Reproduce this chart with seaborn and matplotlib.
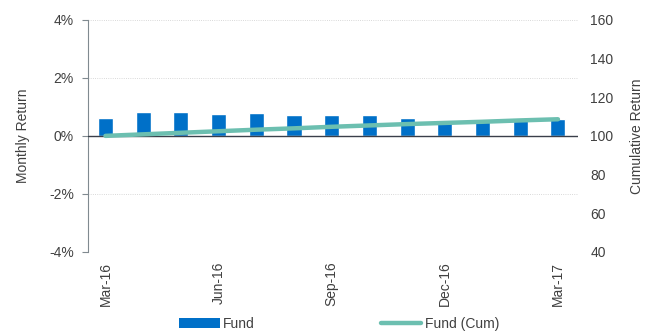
import numpy as np
import pandas as pd
import matplotlib
matplotlib.use("Agg")
import matplotlib.pyplot as plt
from matplotlib.patches import Patch
from matplotlib.lines import Line2D
import seaborn as sns

months = ["Mar-16", "Apr-16", "May-16", "Jun-16", "Jul-16", "Aug-16", "Sep-16",
          "Oct-16", "Nov-16", "Dec-16", "Jan-17", "Feb-17", "Mar-17"]
monthly_return = [0.62, 0.82, 0.82, 0.75, 0.78, 0.72, 0.72, 0.71, 0.62, 0.55, 0.55, 0.62, 0.59]
cumulative_return = [100.0, 100.8, 101.6, 102.4, 103.2, 103.9, 104.7, 105.4,
                     106.1, 106.7, 107.3, 108.0, 108.6]
left_ticks = [-4, -2, 0, 2, 4]
right_ticks = [40, 60, 80, 100, 120, 140, 160]
shown_months = ["Mar-16", "Jun-16", "Sep-16", "Dec-16", "Mar-17"]

sns.set_theme(style="white")
plt.rcParams["font.family"] = ["Liberation Sans", "DejaVu Sans"]

bar_color = "#0070C8"
line_color = "#6CBFB0"
text_color = "#404040"
fs = 10

df = pd.DataFrame({"month": months, "ret": monthly_return,
                   "pos": np.arange(len(months)), "cum": cumulative_return})

fig = plt.figure(figsize=(6.45, 3.31), dpi=100)
ax = fig.add_axes([0.136, 0.239, 0.760, 0.701])

sns.barplot(data=df, x="month", y="ret", color=bar_color, width=0.4,
            saturation=1, ax=ax, zorder=3)
ax.set_ylim(-4, 4)
ax.set_xlim(-0.47, 12.53)
ax.set_yticks(left_ticks)
ax.set_yticklabels([f"{t}%" for t in left_ticks])
ax.set_xticks([months.index(m) for m in shown_months])
ax.set_xticklabels(shown_months, rotation=90)
ax.set_xlabel("")
ax.set_ylabel("Monthly Return", fontsize=fs, color=text_color, labelpad=14)

for t in left_ticks:
    if t != 0:
        ax.axhline(t, color="#cccccc", lw=0.6, ls=":", zorder=1)
ax.axhline(0, color="#3a3f4a", lw=1.0, zorder=4)

for s in ["top", "right", "bottom"]:
    ax.spines[s].set_visible(False)
ax.spines["left"].set_color("#808a90")
ax.spines["left"].set_linewidth(0.8)
ax.tick_params(axis="y", which="major", direction="out", length=4, width=0.8,
               color="#808a90", pad=6, labelsize=fs, labelcolor=text_color, left=True)
ax.tick_params(axis="x", length=0, pad=7, labelsize=fs, labelcolor=text_color)

ax2 = ax.twinx()
sns.lineplot(data=df, x="pos", y="cum", color=line_color, lw=3.2, sort=False,
             ax=ax2, legend=False, zorder=5)
ax2.set_ylim(40, 160)
ax2.set_xlim(-0.47, 12.53)
ax2.set_yticks(right_ticks)
ax2.set_ylabel("Cumulative Return", fontsize=fs, color=text_color, labelpad=12)
ax2.set_xlabel("")
for s in ["top", "right", "bottom", "left"]:
    ax2.spines[s].set_visible(False)
ax2.tick_params(axis="y", length=0, pad=9, labelsize=fs, labelcolor=text_color)

handles = [Patch(facecolor=bar_color, edgecolor="none"),
           Line2D([0], [0], color=line_color, lw=3.2)]
fig.legend(handles, ["Fund", "Fund (Cum)"], loc="center",
           bbox_to_anchor=(0.526, 0.022), ncol=2, frameon=False,
           fontsize=fs, handlelength=2.9, handletextpad=0.25,
           columnspacing=9.1, labelcolor=text_color, borderpad=0.1)

fig.savefig("out.png", dpi=100)
